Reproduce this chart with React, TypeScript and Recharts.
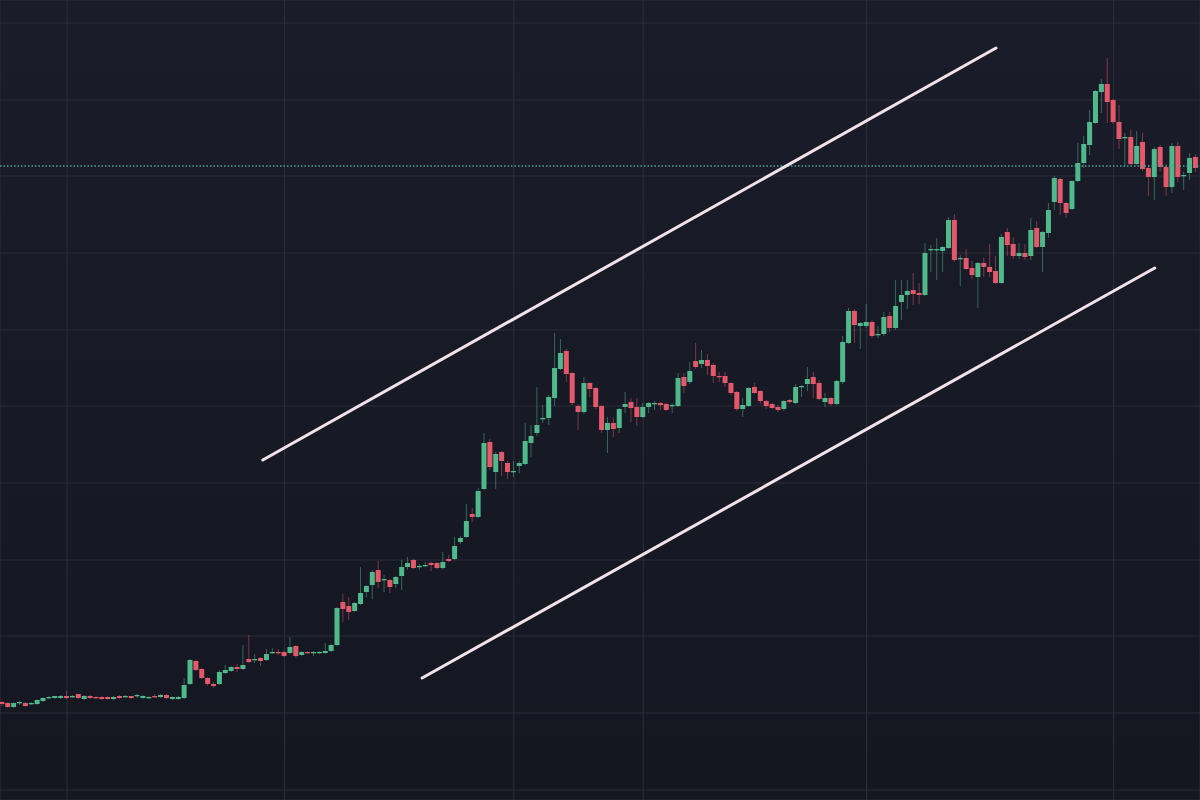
import { ComposedChart, Bar, XAxis, YAxis, CartesianGrid, ReferenceLine } from 'recharts';

// price values, one entry per candle
const opens = [
  98, 97, 93, 97, 97, 96, 96, 99, 102, 102, 102, 104, 103, 106, 101, 104, 103, 103, 103, 101,
  104, 103, 104, 104, 102, 102, 104, 103, 105, 101, 101, 102, 116, 139, 131, 122, 116, 116, 127, 129,
  133, 131, 141, 140, 142, 140, 147, 148, 148, 147, 154, 145, 148, 147, 147, 147, 149, 155, 198, 194,
  189, 196, 208, 215, 230, 220, 220, 216, 224, 233, 240, 233, 234, 237, 237, 232, 241, 241, 258, 263,
  286, 283, 311, 358, 328, 348, 337, 328, 334, 336, 357, 367, 381, 382, 402, 431, 449, 427, 394, 388,
  417, 412, 394, 370, 377, 372, 393, 398, 393, 383, 393, 396, 397, 396, 394, 394, 423, 418, 439, 436,
  440, 435, 424, 424, 417, 408, 391, 394, 413, 409, 399, 396, 393, 391, 400, 397, 413, 416, 423, 417,
  398, 402, 396, 418, 457, 489, 474, 474, 478, 465, 466, 484, 472, 498, 505, 510, 507, 505, 550, 550,
  549, 552, 580, 541, 542, 532, 523, 537, 533, 529, 517, 568, 556, 544, 547, 544, 572, 553, 567, 598,
  621, 597, 591, 619, 637, 655, 677, 708, 716, 700, 678, 662, 663, 636, 658, 632, 623, 653, 633, 613,
  654, 624, 627, 643,
];
const highs = [
  99, 98, 98, 99, 98, 98, 101, 103, 104, 104, 105, 109, 105, 106, 105, 105, 104, 104, 104, 104,
  105, 105, 104, 106, 105, 104, 106, 106, 106, 104, 104, 122, 141, 140, 132, 123, 118, 130, 135, 134,
  136, 155, 165, 146, 143, 151, 152, 151, 149, 163, 155, 149, 149, 149, 149, 157, 156, 193, 206, 203,
  198, 233, 215, 230, 239, 225, 221, 224, 240, 243, 241, 236, 238, 238, 238, 248, 245, 263, 264, 296,
  292, 312, 367, 361, 348, 349, 339, 339, 339, 377, 375, 413, 395, 405, 467, 461, 451, 428, 396, 423,
  418, 413, 395, 383, 382, 392, 408, 402, 402, 397, 398, 399, 398, 397, 397, 427, 427, 438, 457, 450,
  446, 437, 428, 428, 418, 409, 402, 413, 417, 410, 400, 397, 395, 400, 401, 416, 415, 433, 428, 420,
  407, 403, 420, 464, 492, 491, 478, 496, 480, 474, 488, 488, 520, 520, 520, 527, 517, 557, 555, 562,
  554, 583, 586, 545, 551, 539, 538, 542, 556, 544, 566, 572, 563, 557, 556, 582, 579, 569, 597, 624,
  622, 598, 620, 657, 664, 690, 710, 721, 742, 701, 695, 667, 670, 669, 667, 635, 653, 655, 636, 657,
  658, 628, 647, 646,
];
const lows = [
  94, 92, 92, 95, 93, 95, 95, 98, 101, 101, 101, 101, 102, 101, 100, 101, 101, 100, 100, 100,
  101, 102, 101, 102, 101, 101, 102, 102, 101, 100, 100, 101, 115, 129, 121, 114, 112, 115, 126, 128,
  128, 130, 137, 137, 134, 139, 146, 145, 143, 146, 142, 144, 146, 144, 146, 146, 148, 154, 178, 180,
  188, 195, 203, 201, 212, 208, 207, 212, 210, 230, 231, 230, 233, 229, 231, 230, 238, 240, 256, 262,
  278, 282, 310, 330, 311, 324, 321, 323, 327, 335, 343, 364, 377, 375, 394, 430, 418, 395, 370, 386,
  403, 391, 367, 347, 363, 367, 387, 378, 374, 382, 387, 390, 390, 389, 387, 393, 407, 416, 431, 432,
  425, 417, 418, 413, 405, 389, 383, 393, 406, 396, 391, 391, 388, 389, 396, 396, 403, 409, 402, 400,
  393, 394, 395, 416, 456, 457, 451, 472, 462, 462, 464, 468, 470, 480, 491, 495, 496, 504, 528, 520,
  528, 551, 538, 514, 530, 521, 492, 523, 523, 516, 516, 544, 541, 541, 540, 540, 552, 528, 562, 590,
  585, 582, 590, 618, 632, 645, 676, 687, 677, 676, 651, 633, 635, 635, 629, 604, 600, 628, 604, 607,
  618, 610, 620, 628,
];
const closes = [
  96, 93, 97, 98, 94, 97, 100, 102, 103, 104, 104, 102, 104, 102, 104, 102, 102, 101, 101, 103,
  102, 104, 102, 105, 104, 103, 103, 105, 102, 103, 103, 115, 140, 130, 122, 116, 114, 128, 130, 133,
  131, 135, 138, 141, 139, 146, 148, 147, 144, 153, 144, 148, 147, 148, 148, 149, 155, 192, 191, 188,
  197, 207, 214, 228, 218, 221, 213, 223, 233, 237, 232, 234, 235, 235, 232, 238, 239, 254, 262, 279,
  283, 309, 357, 333, 346, 339, 328, 329, 337, 359, 364, 375, 382, 403, 432, 447, 426, 397, 388, 417,
  411, 393, 370, 377, 371, 391, 396, 392, 383, 393, 397, 397, 395, 390, 395, 422, 414, 429, 433, 440,
  434, 424, 423, 417, 407, 391, 395, 412, 407, 399, 394, 392, 390, 399, 398, 413, 414, 421, 416, 401,
  402, 396, 419, 458, 489, 475, 477, 478, 464, 466, 483, 472, 494, 505, 509, 506, 505, 547, 551, 551,
  553, 580, 540, 542, 531, 525, 537, 533, 528, 517, 563, 555, 544, 547, 543, 570, 553, 568, 590, 622,
  597, 587, 619, 637, 656, 678, 709, 716, 698, 678, 661, 663, 636, 654, 631, 623, 651, 633, 613, 654,
  623, 625, 642, 632,
];

// candle indices where the vertical grid lines fall
const dateTicks = [11, 48, 87, 109, 147, 189];
const priceTicks = [10, 87, 164, 240, 317, 394, 470, 547, 624, 700, 777];

// channel drawn on top: [index, price] at each end
const upperChannel = [[44.3, 340], [169.0, 752]];
const lowerChannel = [[71.4, 122], [196.0, 532]];
const lastPrice = 634;

const UP = '#4fb98b';
const DOWN = '#e4586b';

const data = opens.map((open, i) => ({
  i,
  open,
  high: highs[i],
  low: lows[i],
  close: closes[i],
  range: [lows[i], highs[i]],
}));

function Candle(props: any) {
  const { x, y, width, height } = props;
  const p = props.payload ?? props;
  const top = Math.min(y, y + height);
  const h = Math.abs(height);
  const up = p.close >= p.open;
  const color = up ? UP : DOWN;
  const ratio = p.high === p.low ? 0 : h / (p.high - p.low);
  const bodyTop = top + (p.high - Math.max(p.open, p.close)) * ratio;
  const bodyH = Math.max(Math.abs(p.open - p.close) * ratio, 1.3);
  const cx = x + width / 2;
  return (
    <g>
      <line x1={cx} x2={cx} y1={top} y2={top + h} stroke={color} strokeOpacity={0.5} strokeWidth={1} />
      <rect x={x} y={bodyTop} width={width} height={bodyH} fill={color} />
    </g>
  );
}

const seg = (pts: number[][]) => pts.map(([x, y]) => ({ x, y }));

export default function App() {
  return (
    <div
      style={{
        position: 'fixed',
        left: 0,
        top: 0,
        width: 1200,
        height: 800,
        background: 'linear-gradient(180deg, #1b1c29 0%, #171925 55%, #141620 100%)',
      }}
    >
      <ComposedChart width={1200} height={800} data={data} margin={{ top: 0, right: 0, bottom: 0, left: 0 }}>
        <CartesianGrid stroke="#2a2c39" strokeWidth={1.2} />
        <XAxis
          type="number"
          dataKey="i"
          domain={[-0.39, 203.7]}
          ticks={dateTicks}
          allowDataOverflow
          hide
        />
        <YAxis type="number" domain={[0, 800]} ticks={priceTicks} allowDataOverflow hide />
        <ReferenceLine y={lastPrice} stroke="#4fa596" strokeWidth={1.5} strokeDasharray="1.5 2" />
        <Bar dataKey="range" barSize={5} shape={<Candle />} isAnimationActive={false} />
        <ReferenceLine
          segment={seg(upperChannel)}
          stroke="#f2e3e8"
          strokeWidth={3}
          strokeLinecap="round"
          ifOverflow="visible"
        />
        <ReferenceLine
          segment={seg(lowerChannel)}
          stroke="#f2e3e8"
          strokeWidth={3}
          strokeLinecap="round"
          ifOverflow="visible"
        />
      </ComposedChart>
    </div>
  );
}
